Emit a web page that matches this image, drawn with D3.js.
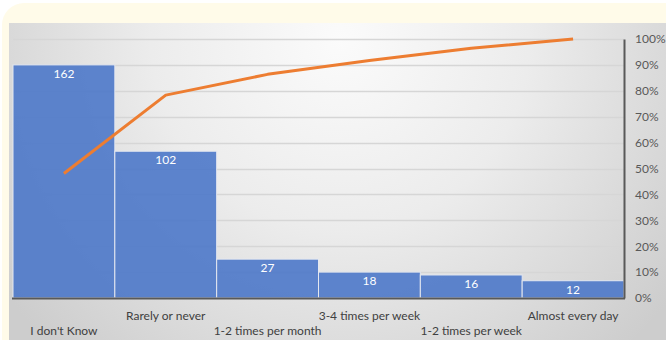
<!DOCTYPE html>
<html>
<head>
<meta charset="utf-8">
<script src="https://cdn.jsdelivr.net/npm/d3@7"></script>
<style>
  html, body { margin: 0; padding: 0; background: #ffffff; }
  svg { display: block; font-family: Lato, "Open Sans", sans-serif; }
</style>
</head>
<body>
<svg id="chart" width="666" height="340"></svg>
<script>
// Responses per frequency category, sorted descending (Pareto order)
const categories = ["I don't Know", "Rarely or never", "1-2 times per month", "3-4 times per week", "1-2 times per week", "Almost every day"];
const counts = [162, 102, 27, 18, 16, 12];
const percentTicks = [0, 0.1, 0.2, 0.3, 0.4, 0.5, 0.6, 0.7, 0.8, 0.9, 1.0];

const total = d3.sum(counts);
const cumulative = d3.cumsum(counts).map(v => v / total);

const svg = d3.select("#chart");
const W = 666, H = 340;
const plot = { left: 13, right: 624, top: 39, bottom: 298 };

const defs = svg.append("defs");
const grad = defs.append("radialGradient")
  .attr("id", "panelBg")
  .attr("gradientUnits", "userSpaceOnUse")
  .attr("cx", 340).attr("cy", 40).attr("r", 420)
  .attr("fx", 340).attr("fy", 40);
grad.append("stop").attr("offset", "0%").attr("stop-color", "#fbfbfb");
grad.append("stop").attr("offset", "45%").attr("stop-color", "#ececec");
grad.append("stop").attr("offset", "100%").attr("stop-color", "#cdcdcd");

// Card behind the chart
svg.append("rect").attr("x", 0).attr("y", 0).attr("width", W).attr("height", H).attr("fill", "#ffffff");
svg.append("rect")
  .attr("x", 2).attr("y", 3).attr("width", W + 20).attr("height", H + 20)
  .attr("rx", 22).attr("fill", "#fffbe9");

// Chart panel
svg.append("rect")
  .attr("x", 9).attr("y", 23).attr("width", W - 9).attr("height", H - 23)
  .attr("fill", "url(#panelBg)");

const x = d3.scaleBand().domain(categories).range([plot.left, plot.right]).padding(0);
const yCount = d3.scaleLinear().domain([0, 180]).range([plot.bottom, plot.top]);
const yPct = d3.scaleLinear().domain([0, 1]).range([plot.bottom, plot.top]);

// Horizontal gridlines
svg.append("g").selectAll("line")
  .data(percentTicks.slice(1))
  .join("line")
  .attr("x1", plot.left).attr("x2", plot.right)
  .attr("y1", d => Math.round(yPct(d)) + 0.5).attr("y2", d => Math.round(yPct(d)) + 0.5)
  .attr("stroke", "#d6d6d6").attr("stroke-width", 1.5);

// Bars
svg.append("g").selectAll("rect")
  .data(counts)
  .join("rect")
  .attr("x", (d, i) => x(categories[i]))
  .attr("y", d => yCount(d))
  .attr("width", x.bandwidth())
  .attr("height", d => plot.bottom - yCount(d))
  .attr("fill", "#4d78c9")
  .attr("fill-opacity", 0.9)
  .attr("stroke", "#e4e8f0")
  .attr("stroke-width", 1);

// Bar value labels
svg.append("g").selectAll("text")
  .data(counts)
  .join("text")
  .attr("x", (d, i) => x(categories[i]) + x.bandwidth() / 2)
  .attr("y", d => yCount(d) + 13)
  .attr("text-anchor", "middle")
  .attr("fill", "#ffffff")
  .attr("font-size", 12)
  .text(d => d);

// Baseline
svg.append("line")
  .attr("x1", plot.left - 1).attr("x2", plot.right + 1)
  .attr("y1", plot.bottom + 0.5).attr("y2", plot.bottom + 0.5)
  .attr("stroke", "#595959").attr("stroke-width", 2);

// Right percentage axis
const rightAxis = d3.axisRight(yPct)
  .tickValues(percentTicks)
  .tickFormat(d3.format(".0%"))
  .tickSize(0)
  .tickPadding(11);
const ra = svg.append("g")
  .attr("transform", `translate(${plot.right},0)`)
  .call(rightAxis);
ra.select(".domain").attr("stroke", "#595959").attr("stroke-width", 2);
ra.selectAll("text").attr("fill", "#595959").attr("font-size", 12)
  .attr("font-family", "Lato, 'Open Sans', sans-serif");

// Category labels, staggered on two rows
svg.append("g").selectAll("text")
  .data(categories)
  .join("text")
  .attr("x", d => x(d) + x.bandwidth() / 2)
  .attr("y", (d, i) => i % 2 === 0 ? 335 : 320)
  .attr("text-anchor", "middle")
  .attr("fill", "#404040")
  .attr("font-size", 12)
  .text(d => d);

// Cumulative percentage line
const line = d3.line()
  .x((d, i) => x(categories[i]) + x.bandwidth() / 2)
  .y(d => yPct(d));
svg.append("path")
  .datum(cumulative)
  .attr("d", line)
  .attr("fill", "none")
  .attr("stroke", "#ed7d31")
  .attr("stroke-width", 3)
  .attr("stroke-linejoin", "round");
</script>
</body>
</html>
